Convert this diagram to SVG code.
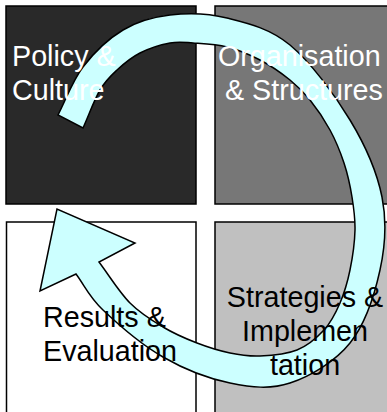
<svg xmlns="http://www.w3.org/2000/svg" width="387" height="412" viewBox="0 0 387 412">
<style>
.box{stroke:#000;stroke-width:1.5}
.lbl{font-family:"Liberation Sans",Arial,sans-serif;font-size:28.7px}
.w{fill:#fff}
.k{fill:#000}
.arrow{fill:#ccffff;stroke:#000;stroke-width:1.5;stroke-linejoin:miter}
</style>
<rect width="387" height="412" fill="#fff"/>
<g id="node-policy"><rect class="box" x="6" y="6" width="190" height="198" fill="#292929"/></g>
<g id="node-organisation"><rect class="box" x="215" y="6" width="180" height="198" fill="#777777"/></g>
<g id="node-results"><rect class="box" x="6.5" y="222" width="189.5" height="200" fill="#ffffff"/></g>
<g id="node-strategies"><rect class="box" x="215" y="222" width="180" height="200" fill="#c0c0c0"/></g>
<g id="connectors">
<path class="arrow" d="M58,115 C66.3,99 72.2,81.2 83,67 S108.5,38.7 123,30 S152.7,17 170,15 S207,13 227,18 S269.5,28 290,45 S334.7,94.7 350,120 S377,172 382,197 S385.3,245.7 380,270 S365,324.2 350,343 S310,376.3 290,383 S251.2,387.3 230,383 S184.2,369.2 163,357 S117.5,323.8 103,310 S85,286 76,274 L40,291 L57,209 L135,243 L99,262 C109.3,275.7 119.3,292.2 130,303 S151.8,320.3 163,327 S185.8,338.7 197,343 S219.5,350.8 230,353 S248.8,356.5 260,356 S286.3,354.3 297,350 S316.8,337.8 324,330 S335.7,313 340,303 S347.5,282.2 350,270 S354.7,242.2 355,230 S353.8,208.2 352,197 S347.7,174.2 344,163 S335.7,140.5 330,130 S316.7,108.3 310,100 S298.3,86.7 290,80 S270.5,65.5 260,60 S238.2,49.8 227,47 S202.5,43.7 193,43 S178.8,41.3 170,43 S148.8,48.5 140,53 S123.7,63.8 117,70 S105.7,80.3 100,90 S88.7,115.3 83,128 Z"/>
</g>
<g id="label-policy"><text class="lbl w" x="12" y="66">Policy &amp;</text><text class="lbl w" x="12" y="100">Culture</text></g>
<g id="label-organisation"><text class="lbl w" x="218" y="66">Organisation</text><text class="lbl w" x="225" y="100">&amp; Structures</text></g>
<g id="label-results"><text class="lbl k" x="43" y="327">Results &amp;</text><text class="lbl k" x="43" y="361">Evaluation</text></g>
<g id="label-strategies"><text class="lbl k" x="305" y="307" text-anchor="middle">Strategies &amp;</text><text class="lbl k" x="305" y="341" text-anchor="middle">Implemen</text><text class="lbl k" x="305" y="375" text-anchor="middle">tation</text></g>
</svg>
